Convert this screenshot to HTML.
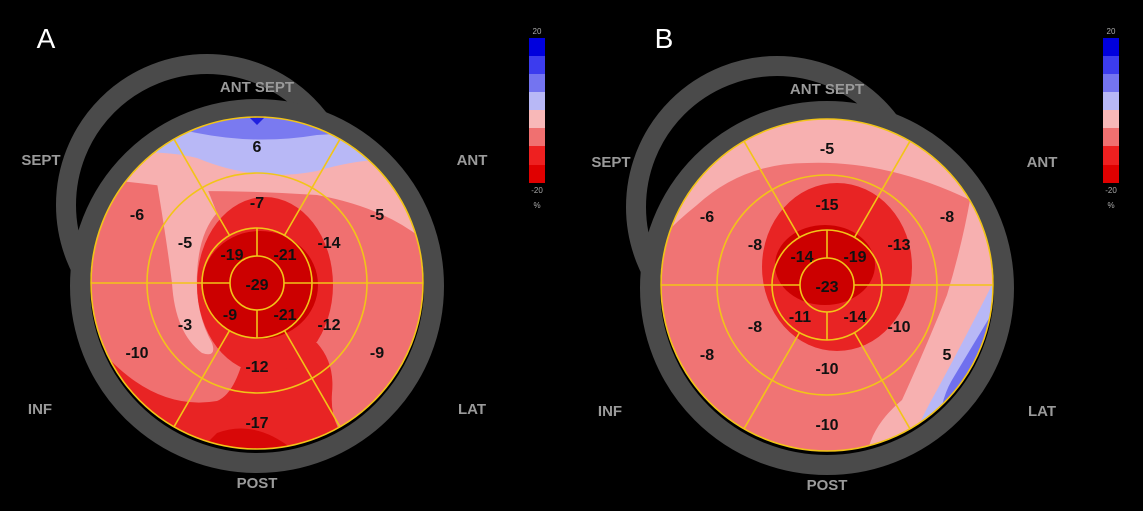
<!DOCTYPE html>
<html><head><meta charset="utf-8"><style>
html,body{margin:0;padding:0;background:#000;}
svg{display:block;}
</style></head><body>
<svg width="1143" height="511" viewBox="0 0 1143 511" xmlns="http://www.w3.org/2000/svg" font-family="Liberation Sans, sans-serif">
<rect width="1143" height="511" fill="#000"/>
<defs>
<clipPath id="cc"><circle cx="0" cy="0" r="166"/></clipPath>
<g id="grid">
 <g fill="none" stroke="#f2c418" stroke-width="1.6">
  <circle r="166"/><circle r="110"/><circle r="55"/><circle r="27"/>
  <line x1="-166" y1="0" x2="-27" y2="0"/><line x1="27" y1="0" x2="166" y2="0"/>
  <line x1="0" y1="-55" x2="0" y2="-27"/><line x1="0" y1="27" x2="0" y2="55"/>
  <line x1="-27.5" y1="-47.6" x2="-83" y2="-143.8"/><line x1="27.5" y1="-47.6" x2="83" y2="-143.8"/>
  <line x1="-27.5" y1="47.6" x2="-83" y2="143.8"/><line x1="27.5" y1="47.6" x2="83" y2="143.8"/>
 </g>
</g>
<g id="rings">
 <circle cx="-50" cy="-78" r="141" fill="none" stroke="#4a4a4a" stroke-width="20"/>
 <circle cx="0" cy="3" r="177" fill="#000" stroke="#4a4a4a" stroke-width="20"/>
</g>
<g id="labels" fill="#9a9a9a" font-weight="bold" font-size="15" text-anchor="middle">
 <text x="0" y="-191">ANT  SEPT</text>
 <text x="-216" y="-118">SEPT</text>
 <text x="215" y="-118">ANT</text>
 <text x="-217" y="131">INF</text>
 <text x="215" y="131">LAT</text>
 <text x="0" y="205">POST</text>
</g>
<g id="cbar">
 <rect x="0" y="0" width="16" height="18" fill="#0000dd"/>
 <rect x="0" y="18" width="16" height="18" fill="#3c3cee"/>
 <rect x="0" y="36" width="16" height="18" fill="#7474f0"/>
 <rect x="0" y="54" width="16" height="18" fill="#b8b8f6"/>
 <rect x="0" y="72" width="16" height="18" fill="#f8b8b8"/>
 <rect x="0" y="90" width="16" height="18" fill="#f07070"/>
 <rect x="0" y="108" width="16" height="19" fill="#ee2020"/>
 <rect x="0" y="127" width="16" height="18" fill="#e00000"/>
 <g fill="#aaa" font-size="8" text-anchor="middle">
  <text x="8" y="-4">20</text><text x="8" y="155">-20</text><text x="8" y="170">%</text>
 </g>
</g>
</defs>

<!-- Panel A -->
<g transform="translate(257,283)">
 <use href="#rings"/>
 <use href="#labels"/>
 <g clip-path="url(#cc)">
  <rect x="-170" y="-170" width="340" height="340" fill="#f07070"/>
  <path d="M-170,-170 L170,-170 L170,-40 Q130,-75 60,-88 Q0,-92 -60,-92 Q-110,-100 -170,-105 Z" fill="#f7b0b0"/>
  <path d="M-100,-100 Q-90,-40 -85,0 Q-82,50 -55,70 Q-40,75 -45,60 Q-62,30 -60,-10 Q-58,-50 -40,-70 L-50,-95 Z" fill="#f7b0b0"/>
  <path d="M-170,-170 L170,-170 L170,-120 Q120,-130 60,-112 Q0,-100 -60,-125 Q-100,-135 -170,-128 Z" fill="#b8b8f6"/>
  <path d="M-170,-170 L170,-170 L170,-170 Q120,-150 60,-148 Q0,-138 -60,-150 Q-100,-158 -170,-170 Z" fill="#7a7af0"/>
  <path d="M-12,-170 L12,-170 L0,-158 Z" fill="#2020e0"/>
  <path d="M-170,50 Q-110,130 -40,118 Q-20,110 -10,60 L60,60 Q78,80 75,110 Q72,150 105,170 L-170,170 Z" fill="#e82424"/>
  <ellipse cx="8" cy="2" rx="68" ry="88" fill="#e82424"/>
  <path d="M-5,80 Q-20,100 -30,125 L20,125 Z" fill="#e82424"/>
  <ellipse cx="3" cy="2" rx="58" ry="54" fill="#cc0000"/>
  <path d="M-40,150 Q0,135 40,170 L-60,170 Z" fill="#d80808"/>
 </g>
 <use href="#grid"/>
 <g font-size="16" font-weight="bold" text-anchor="middle" fill="#111">
  <text x="0" y="-131">6</text><text x="120" y="-63">-5</text><text x="120" y="75">-9</text>
  <text x="0" y="145">-17</text><text x="-120" y="75">-10</text><text x="-120" y="-63">-6</text>
  <text x="0" y="-75">-7</text><text x="72" y="-35">-14</text><text x="72" y="47">-12</text>
  <text x="0" y="89">-12</text><text x="-72" y="47">-3</text><text x="-72" y="-35">-5</text>
  <text x="-25" y="-23">-19</text><text x="28" y="-23">-21</text><text x="28" y="37">-21</text>
  <text x="-27" y="37">-9</text><text x="0" y="7">-29</text>
 </g>
</g>

<!-- Panel B -->
<g transform="translate(827,285)">
 <use href="#rings"/>
 <use href="#labels"/>
 <g clip-path="url(#cc)">
  <rect x="-170" y="-170" width="340" height="340" fill="#f07474"/>
  <path d="M-170,-170 L170,-170 L170,-80 L143,-85 Q60,-125 -20,-122 Q-84,-122 -130,-80 Q-155,-60 -170,-42 Z" fill="#f7b0b0"/>
  <path d="M143,-85 L170,-80 L170,170 L40,170 Q45,140 75,115 Q100,60 120,10 Q135,-40 143,-85 Z" fill="#f7b0b0"/>
  <path d="M176,-22 L176,170 L80,170 Q90,140 110,105 Q140,50 176,-22 Z" fill="#b8b8f6"/>
  <path d="M170,20 L170,170 L110,170 Q110,120 125,95 Q140,70 170,20 Z" fill="#7070ee"/>
  <ellipse cx="10" cy="-18" rx="75" ry="84" fill="#e82424"/>
  <ellipse cx="-2" cy="-20" rx="50" ry="40" fill="#cc0000"/>
 </g>
 <use href="#grid"/>
 <g font-size="16" font-weight="bold" text-anchor="middle" fill="#111">
  <text x="0" y="-131">-5</text><text x="120" y="-63">-8</text><text x="120" y="75">5</text>
  <text x="0" y="145">-10</text><text x="-120" y="75">-8</text><text x="-120" y="-63">-6</text>
  <text x="0" y="-75">-15</text><text x="72" y="-35">-13</text><text x="72" y="47">-10</text>
  <text x="0" y="89">-10</text><text x="-72" y="47">-8</text><text x="-72" y="-35">-8</text>
  <text x="-25" y="-23">-14</text><text x="28" y="-23">-19</text><text x="28" y="37">-14</text>
  <text x="-27" y="37">-11</text><text x="0" y="7">-23</text>
 </g>
</g>

<use href="#cbar" transform="translate(529,38)"/>
<use href="#cbar" transform="translate(1103,38)"/>

<text x="46" y="48" fill="#fff" font-size="28" text-anchor="middle">A</text>
<text x="664" y="48" fill="#fff" font-size="28" text-anchor="middle">B</text>
</svg>
</body></html>
